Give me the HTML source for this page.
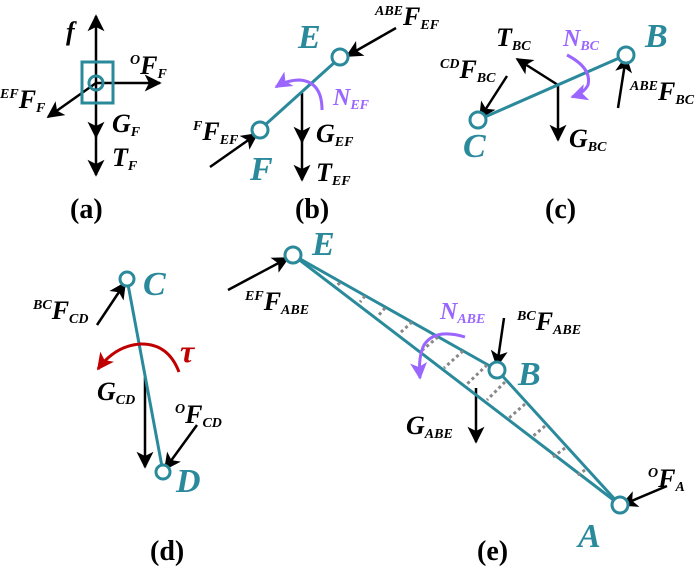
<!DOCTYPE html>
<html><head><meta charset="utf-8"><style>
html,body{margin:0;padding:0;background:#fff;}
svg{display:block;}
text{font-family:"Liberation Serif",serif;font-weight:bold;font-style:italic;}
.t{fill:#2a8a9b;font-size:34px;}
.k{fill:#000;font-size:26px;}
.s{font-size:14px;}
.p{fill:#9a66ff;font-size:24px;}
.cap{font-style:normal;font-size:28px;fill:#000;}
</style></head><body>
<svg width="700" height="568" viewBox="0 0 700 568" xmlns="http://www.w3.org/2000/svg">
<defs>
<marker id="a" viewBox="0 0 10 10" refX="9" refY="5" markerWidth="20" markerHeight="17" orient="auto" markerUnits="userSpaceOnUse"><path d="M0,0 L10,5 L0,10 L2.5,5 z" fill="#000"/></marker>
<marker id="ap" viewBox="0 0 10 10" refX="9" refY="5" markerWidth="20" markerHeight="17" orient="auto" markerUnits="userSpaceOnUse"><path d="M0,0 L10,5 L0,10 L2.5,5 z" fill="#9a66ff"/></marker>
<marker id="ar" viewBox="0 0 10 10" refX="9" refY="5" markerWidth="20" markerHeight="17" orient="auto" markerUnits="userSpaceOnUse"><path d="M0,0 L10,5 L0,10 L2.5,5 z" fill="#c00000"/></marker>
</defs>
<g stroke="#000" stroke-width="2.5" fill="none">
<line x1="96" y1="83" x2="96" y2="16" marker-end="url(#a)"/>
<line x1="96" y1="83" x2="96" y2="137" marker-end="url(#a)"/>
<line x1="96" y1="130" x2="96" y2="175" marker-end="url(#a)"/>
<line x1="96" y1="83" x2="160" y2="83" marker-end="url(#a)"/>
<line x1="96" y1="83" x2="48" y2="117" marker-end="url(#a)"/>
<line x1="396" y1="28" x2="347" y2="56" marker-end="url(#a)"/>
<line x1="210" y1="167" x2="257" y2="134" marker-end="url(#a)"/>
<line x1="302" y1="93" x2="302" y2="142" marker-end="url(#a)"/>
<line x1="302" y1="135" x2="302" y2="180" marker-end="url(#a)"/>
<line x1="558" y1="85" x2="517" y2="59" marker-end="url(#a)"/>
<line x1="558" y1="85" x2="558" y2="140" marker-end="url(#a)"/>
<line x1="507" y1="76" x2="480" y2="118" marker-end="url(#a)"/>
<line x1="618" y1="108" x2="626" y2="57" marker-end="url(#a)"/>
<line x1="97" y1="325" x2="125" y2="283" marker-end="url(#a)"/>
<line x1="145" y1="377" x2="145" y2="467" marker-end="url(#a)"/>
<line x1="197" y1="425" x2="165" y2="469" marker-end="url(#a)"/>
<line x1="228" y1="290" x2="288" y2="258" marker-end="url(#a)"/>
<line x1="504" y1="318" x2="497" y2="366" marker-end="url(#a)"/>
<line x1="476" y1="388" x2="476" y2="442" marker-end="url(#a)"/>
<line x1="667" y1="486" x2="622" y2="505" marker-end="url(#a)"/>
</g>
<g stroke="#2a8a9b" stroke-width="3" fill="none">
<rect x="82" y="62" width="31" height="41"/>
<circle cx="96" cy="83" r="7"/>
<line x1="265" y1="125" x2="335" y2="62"/>
<circle cx="260" cy="130" r="8" fill="#fff"/>
<circle cx="340" cy="57" r="8" fill="#fff"/>
<line x1="478" y1="120" x2="626" y2="55"/>
<circle cx="478" cy="120" r="8" fill="#fff"/>
<circle cx="626" cy="55" r="8" fill="#fff"/>
<line x1="127" y1="279" x2="163" y2="472"/>
<circle cx="127" cy="279" r="7" fill="#fff"/>
<circle cx="163" cy="472" r="7" fill="#fff"/>
<line x1="293" y1="255" x2="497" y2="370"/>
<line x1="293" y1="255" x2="620" y2="505"/>
<line x1="497" y1="370" x2="620" y2="505"/>
<circle cx="293" cy="255" r="8" fill="#fff"/>
<circle cx="497" cy="370" r="8" fill="#fff"/>
<circle cx="620" cy="505" r="8" fill="#fff"/>
</g>
<g stroke="#888" stroke-width="3" stroke-dasharray="3,3">
<line x1="340" y1="283" x2="337" y2="285"/>
<line x1="365" y1="296" x2="360" y2="302"/>
<line x1="385" y1="308" x2="378" y2="316"/>
<line x1="412" y1="322" x2="400" y2="333"/>
<line x1="438" y1="337" x2="420" y2="352"/>
<line x1="463" y1="351" x2="444" y2="368"/>
<line x1="487" y1="365" x2="466" y2="385"/>
<line x1="505" y1="382" x2="487" y2="400"/>
<line x1="525" y1="404" x2="509" y2="418"/>
<line x1="545" y1="426" x2="532" y2="437"/>
<line x1="565" y1="448" x2="553" y2="457"/>
<line x1="585" y1="470" x2="576" y2="476"/>
</g>
<path d="M322,110 Q322,82 300,80 Q287,80 276,87" stroke="#9a66ff" stroke-width="3" fill="none" marker-end="url(#ap)"/>
<path d="M567,55 Q592,68 588,85 Q584,93 572,97" stroke="#9a66ff" stroke-width="3" fill="none" marker-end="url(#ap)"/>
<path d="M465,337 Q435,328 424,345 Q418,357 420,378" stroke="#9a66ff" stroke-width="3" fill="none" marker-end="url(#ap)"/>
<path d="M179,372 Q168,343 140,344 Q115,346 98,369" stroke="#c00000" stroke-width="3" fill="none" marker-end="url(#ar)"/>
<text x="66" y="40" class="k">f</text>
<text x="130" y="74" class="k"><tspan class="s" dy="-10">O</tspan><tspan dy="10">F</tspan><tspan class="s" dy="4">F</tspan></text>
<text x="0" y="108" class="k"><tspan class="s" dy="-10">EF</tspan><tspan dy="10">F</tspan><tspan class="s" dy="4">F</tspan></text>
<text x="112" y="132" class="k">G<tspan class="s" dy="4">F</tspan></text>
<text x="112" y="166" class="k">T<tspan class="s" dy="4">F</tspan></text>
<text x="70" y="218" class="cap">(a)</text>
<text x="298" y="48" class="t">E</text>
<text x="250" y="180" class="t">F</text>
<text x="375" y="25" class="k"><tspan class="s" dy="-10">ABE</tspan><tspan dy="10">F</tspan><tspan class="s" dy="4">EF</tspan></text>
<text x="193" y="140" class="k"><tspan class="s" dy="-10">F</tspan><tspan dy="10">F</tspan><tspan class="s" dy="4">EF</tspan></text>
<text x="333" y="105" class="p">N<tspan class="s" dy="4">EF</tspan></text>
<text x="316" y="142" class="k">G<tspan class="s" dy="4">EF</tspan></text>
<text x="316" y="181" class="k">T<tspan class="s" dy="4">EF</tspan></text>
<text x="295" y="218" class="cap">(b)</text>
<text x="645" y="47" class="t">B</text>
<text x="463" y="157" class="t">C</text>
<text x="496" y="46" class="k">T<tspan class="s" dy="4">BC</tspan></text>
<text x="563" y="46" class="p">N<tspan class="s" dy="4">BC</tspan></text>
<text x="440" y="78" class="k"><tspan class="s" dy="-10">CD</tspan><tspan dy="10">F</tspan><tspan class="s" dy="4">BC</tspan></text>
<text x="630" y="100" class="k"><tspan class="s" dy="-10">ABE</tspan><tspan dy="10">F</tspan><tspan class="s" dy="4">BC</tspan></text>
<text x="569" y="147" class="k">G<tspan class="s" dy="4">BC</tspan></text>
<text x="545" y="218" class="cap">(c)</text>
<text x="143" y="295" class="t">C</text>
<text x="176" y="492" class="t">D</text>
<text x="33" y="319" class="k"><tspan class="s" dy="-10">BC</tspan><tspan dy="10">F</tspan><tspan class="s" dy="4">CD</tspan></text>
<text x="180" y="362" style="fill:#c00000;font-size:32px;">τ</text>
<text x="97" y="400" class="k">G<tspan class="s" dy="4">CD</tspan></text>
<text x="175" y="423" class="k"><tspan class="s" dy="-10">O</tspan><tspan dy="10">F</tspan><tspan class="s" dy="4">CD</tspan></text>
<text x="150" y="560" class="cap">(d)</text>
<text x="312" y="255" class="t">E</text>
<text x="518" y="385" class="t">B</text>
<text x="578" y="547" class="t">A</text>
<text x="245" y="310" class="k"><tspan class="s" dy="-10">EF</tspan><tspan dy="10">F</tspan><tspan class="s" dy="4">ABE</tspan></text>
<text x="440" y="319" class="p">N<tspan class="s" dy="4">ABE</tspan></text>
<text x="517" y="330" class="k"><tspan class="s" dy="-10">BC</tspan><tspan dy="10">F</tspan><tspan class="s" dy="4">ABE</tspan></text>
<text x="406" y="434" class="k">G<tspan class="s" dy="4">ABE</tspan></text>
<text x="648" y="487" class="k"><tspan class="s" dy="-10">O</tspan><tspan dy="10">F</tspan><tspan class="s" dy="4">A</tspan></text>
<text x="477" y="560" class="cap">(e)</text>
</svg>
</body></html>
